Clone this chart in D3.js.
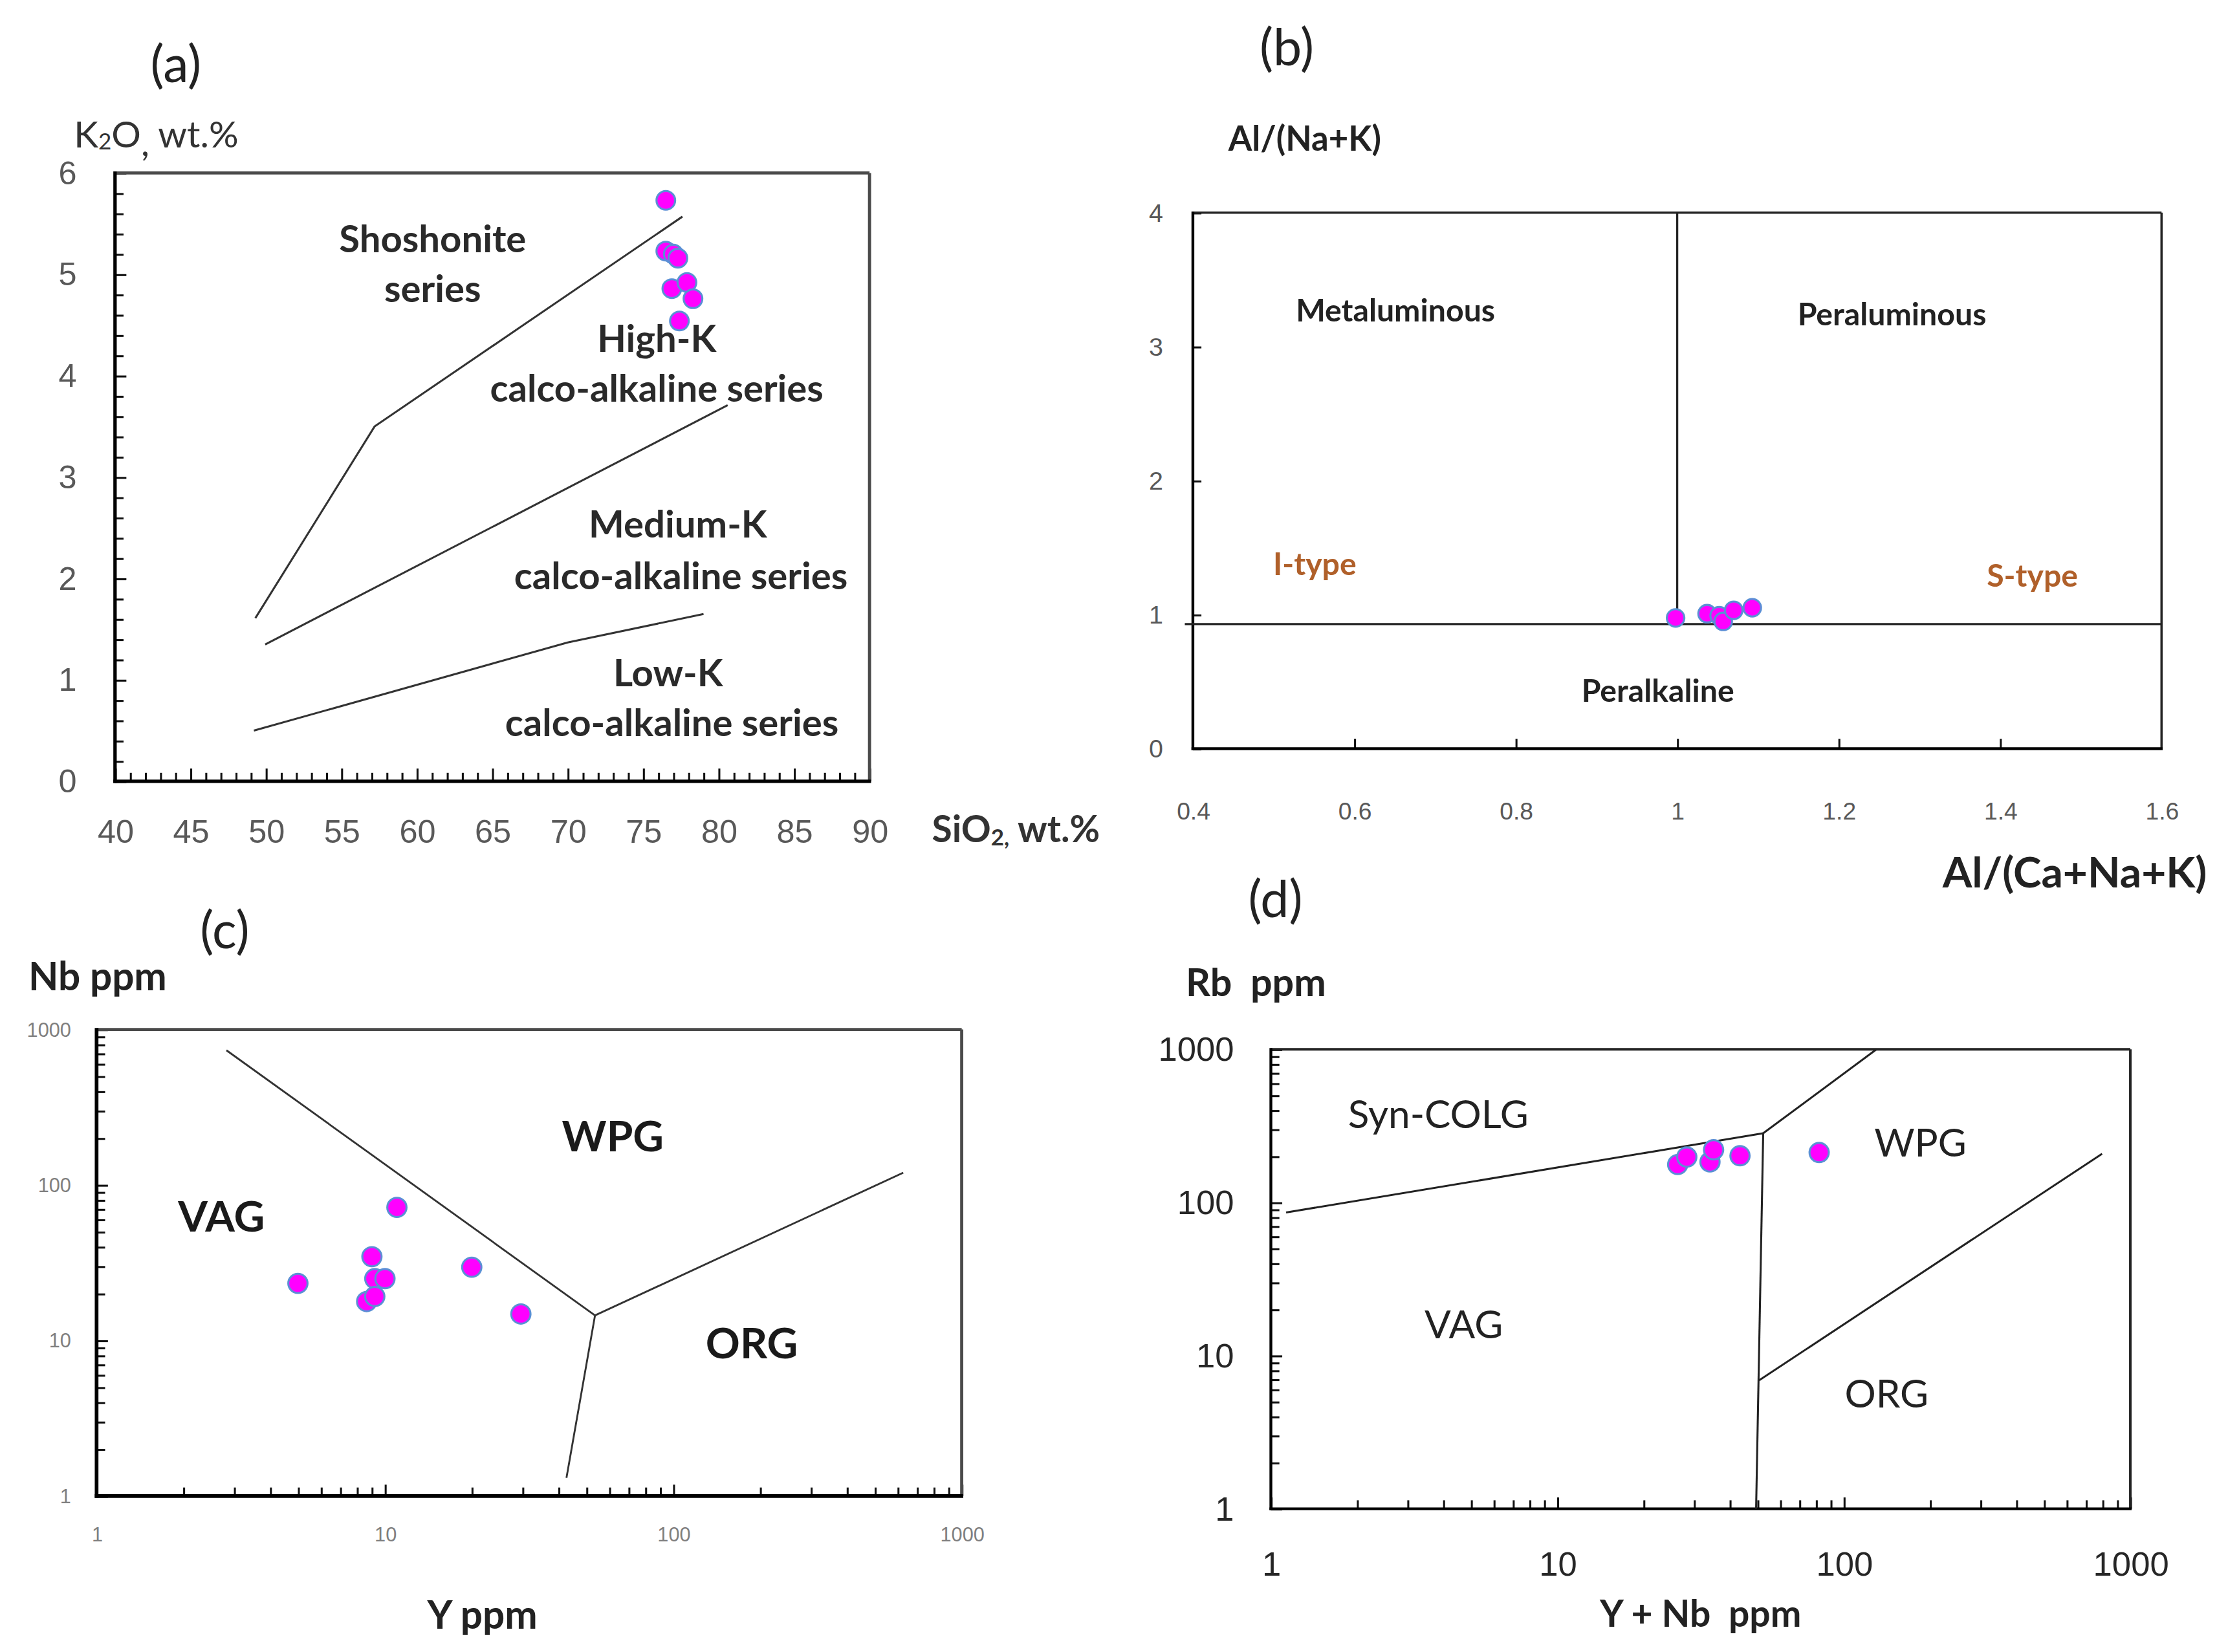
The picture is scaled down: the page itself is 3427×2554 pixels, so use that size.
<!DOCTYPE html>
<html>
<head>
<meta charset="utf-8">
<script src="https://cdn.jsdelivr.net/npm/d3@7"></script>
<style>
  html, body { margin: 0; padding: 0; background: #fff; }
  svg { display: block; font-family: Lato, "Open Sans", "DejaVu Sans", sans-serif; }
  text { white-space: pre; }
</style>
</head>
<body>
<svg id="chart"></svg>
<script>
// ---------------- DATA ----------------
// (a) SiO2 vs K2O
const aSiO2 = [76.5, 76.5, 77.0, 77.3, 76.9, 77.9, 78.3, 77.4];
const aK2O  = [5.73, 5.23, 5.20, 5.16, 4.86, 4.92, 4.76, 4.54];
const aLineShoshonite = [[49.3, 1.61], [57.2, 3.50], [77.6, 5.57]];
const aLineHighK      = [[49.95, 1.35], [80.6, 3.71]];
const aLineLowK       = [[49.2, 0.50], [70.0, 1.37], [79.0, 1.65]];
const aXTicks = d3.range(40, 91, 1);
const aXLabels = [40, 45, 50, 55, 60, 65, 70, 75, 80, 85, 90];
const aYTicks = d3.range(0, 6.01, 0.2).map(v => +v.toFixed(1));
const aYLabels = [0, 1, 2, 3, 4, 5, 6];
const aRegions = [
  ["Shoshonite", 61.05, 5.36], ["series", 61.05, 4.87],
  ["High-K", 75.9, 4.38], ["calco-alkaline series", 75.9, 3.89],
  ["Medium-K", 77.3, 2.55], ["calco-alkaline series", 77.5, 2.04],
  ["Low-K", 76.65, 1.08], ["calco-alkaline series", 76.9, 0.59]
];

// (b) A/CNK vs A/NK
const bACNK = [0.998, 1.037, 1.052, 1.057, 1.070, 1.093];
const bANK  = [0.976, 1.008, 0.993, 0.950, 1.033, 1.052];
const bVLine = [[1.0, 0.93], [1.0, 4.0]];
const bHLine = [[0.39, 0.93], [1.6, 0.93]];
const bXLabels = [0.4, 0.6, 0.8, 1.0, 1.2, 1.4, 1.6];
const bYLabels = [0, 1, 2, 3, 4];
const bRegions = [
  ["Metaluminous", 0.651, 3.28, "#222"], ["Peraluminous", 1.266, 3.25, "#222"],
  ["I-type", 0.551, 1.386, "#B0602A"], ["S-type", 1.44, 1.30, "#B0602A"],
  ["Peralkaline", 0.976, 0.444, "#222"]
];

// (c) Y vs Nb
const cY  = [4.99, 11.0, 9.01, 9.22, 10.0, 8.64, 9.22, 20.0, 29.6];
const cNb = [23.3, 71.8, 34.6, 25.0, 25.0, 17.8, 19.2, 29.6, 14.8];
const cLineVAG = [[2.82, 735], [53.5, 14.5]];
const cLineORG = [[53.5, 14.5], [627, 120]];
const cLineBottom = [[53.5, 14.5], [42.6, 1.31]];
const cRegions = [["VAG", 2.71, 63.8], ["WPG", 61.7, 211], ["ORG", 187, 9.85]];

// (d) Y+Nb vs Rb
const dYNb = [26.3, 28.3, 34.1, 35.1, 43.4, 82.0];
const dRb  = [177, 198, 184, 221, 202, 212];
const dLineSyn   = [[1.13, 86], [52.3, 283]];
const dLineUpper = [[52.3, 283], [130, 1000]];
const dLineVert  = [[52.3, 283], [49.4, 1]];
const dLineORG   = [[50.6, 6.9], [797, 208]];
const dRegions = [["Syn-COLG", 3.84, 383], ["WPG", 185, 250], ["VAG", 4.71, 16.3], ["ORG", 141, 5.75]];

const logTicks = [];
[1, 10, 100].forEach(d => { for (let i = 1; i < 10; i++) logTicks.push(d * i); });
logTicks.push(1000);
const logLabels = [1, 10, 100, 1000];

// ---------------- DRAW ----------------
const W = 1563, H = 1165;
const svg = d3.select("#chart")
  .attr("width", 3427).attr("height", 2554)
  .attr("viewBox", `0 0 ${W} ${H}`);
svg.append("rect").attr("width", W).attr("height", H).attr("fill", "#fff");

const MAG = "#FF00FF", MAGSTROKE = "#5B8FD5";
const line = (xs, ys) => d3.line().x(d => xs(d[0])).y(d => ys(d[1]));

function styleAxis(g, labelSize, labelColor) {
  g.select(".domain").remove();
  g.selectAll(".tick line").attr("stroke", "#111").attr("stroke-width", 1.4);
  g.selectAll(".tick text").attr("font-size", labelSize).attr("fill", labelColor);
  return g;
}

function frame(g, x0, x1, y0, y1, axisW, frameW, frameColor) {
  g.append("line").attr("x1", x0).attr("x2", x1).attr("y1", y0).attr("y2", y0)
    .attr("stroke", frameColor).attr("stroke-width", frameW);
  g.append("line").attr("x1", x1).attr("x2", x1).attr("y1", y0).attr("y2", y1)
    .attr("stroke", frameColor).attr("stroke-width", frameW);
  g.append("line").attr("x1", x0).attr("x2", x0).attr("y1", y0 - frameW / 2).attr("y2", y1 + axisW / 2)
    .attr("stroke", "#000").attr("stroke-width", axisW);
  g.append("line").attr("x1", x0 - axisW / 2).attr("x2", x1 + frameW / 2).attr("y1", y1).attr("y2", y1)
    .attr("stroke", "#000").attr("stroke-width", axisW);
}

function points(g, xs, ys, xv, yv, r) {
  g.selectAll(null).data(xv.map((v, i) => [v, yv[i]])).enter().append("circle")
    .attr("cx", d => xs(d[0])).attr("cy", d => ys(d[1])).attr("r", r)
    .attr("fill", MAG).attr("stroke", MAGSTROKE).attr("stroke-width", 1.4);
}

function txt(x, y, s, size, opts = {}) {
  return svg.append("text").attr("x", x).attr("y", y).text(s)
    .attr("font-size", size).attr("fill", opts.fill || "#222")
    .attr("font-weight", opts.weight || "normal")
    .attr("text-anchor", opts.anchor || "start")
    .attr("dominant-baseline", "central");
}

// ===== Panel (a) =====
{
  const x = d3.scaleLinear().domain([40, 90]).range([81, 613]);
  const y = d3.scaleLinear().domain([0, 6]).range([551, 122]);
  const g = svg.append("g");
  const xa = g.append("g").attr("transform", "translate(0,551)")
    .call(d3.axisBottom(x).tickValues(aXTicks).tickSize(-6).tickPadding(27)
      .tickFormat(d => aXLabels.includes(d) ? d : ""));
  styleAxis(xa, 23, "#595959");
  xa.selectAll(".tick line").attr("y2", d => d % 5 === 0 ? -9 : -6);
  const ya = g.append("g").attr("transform", "translate(81,0)")
    .call(d3.axisLeft(y).tickValues(aYTicks).tickSize(-6).tickPadding(27)
      .tickFormat(d => aYLabels.includes(d) ? d : ""));
  styleAxis(ya, 23, "#595959");
  ya.selectAll(".tick line").attr("x2", d => Number.isInteger(d) ? 8 : 6);
  frame(g, 81, 613, 122, 551, 2.4, 2.2, "#4a4a4a");
  [aLineShoshonite, aLineHighK, aLineLowK].forEach(l =>
    g.append("path").attr("d", line(x, y)(l)).attr("fill", "none")
      .attr("stroke", "#333").attr("stroke-width", 1.4));
  aRegions.forEach(r => g.append("text").attr("x", x(r[1])).attr("y", y(r[2]))
    .attr("text-anchor", "middle").attr("dominant-baseline", "central")
    .attr("font-size", 26.5).attr("font-weight", "bold").attr("fill", "#2a2a2a").text(r[0]));
  points(g, x, y, aSiO2, aK2O, 6.6);
  txt(106, 44, "(a)", 36);
  const t = txt(52, 94, "", 26, { fill: "#333" });
  t.append("tspan").text("K");
  t.append("tspan").attr("font-size", 16).attr("dy", 5).text("2");
  t.append("tspan").attr("dy", -5).text("O");
  t.append("tspan").attr("dy", 6).text(",");
  t.append("tspan").attr("dy", -6).text(" wt.%");
  const s = txt(657, 584, "", 26, { weight: "bold", fill: "#333" });
  s.append("tspan").text("SiO");
  s.append("tspan").attr("font-size", 16).attr("dy", 6).text("2,");
  s.append("tspan").attr("dy", -6).text(" wt.%");
}

// ===== Panel (b) =====
{
  const x = d3.scaleLinear().domain([0.4, 1.6]).range([841, 1524]);
  const y = d3.scaleLinear().domain([0, 4]).range([528, 150]);
  const g = svg.append("g");
  const xa = g.append("g").attr("transform", "translate(0,528)")
    .call(d3.axisBottom(x).tickValues(bXLabels).tickSize(-7).tickPadding(38)
      .tickFormat(d => d3.format("~g")(d)));
  styleAxis(xa, 17, "#595959");
  xa.selectAll(".tick line").attr("opacity", d => (d === 0.4 || d === 1.6) ? 0 : 1);
  const ya = g.append("g").attr("transform", "translate(841,0)")
    .call(d3.axisLeft(y).tickValues(bYLabels).tickSize(-6).tickPadding(21)
      .tickFormat(d => d3.format("~g")(d)));
  styleAxis(ya, 18, "#595959");
  frame(g, 841, 1524, 150, 528, 2, 1.6, "#222");
  [bVLine, bHLine].forEach(l =>
    g.append("path").attr("d", line(x, y)(l)).attr("fill", "none")
      .attr("stroke", "#222").attr("stroke-width", 1.5));
  bRegions.forEach(r => g.append("text").attr("x", x(r[1])).attr("y", y(r[2]))
    .attr("text-anchor", "middle").attr("dominant-baseline", "central")
    .attr("font-size", 22).attr("font-weight", "bold").attr("fill", r[3]).text(r[0]));
  points(g, x, y, bACNK, bANK, 6.2);
  txt(888, 32, "(b)", 36);
  txt(866, 97, "Al/(Na+K)", 24, { weight: "bold" });
  txt(1556, 614, "Al/(Ca+Na+K)", 30, { weight: "bold", anchor: "end" });
}

// ===== Panel (c) =====
{
  const x = d3.scaleLog().domain([1, 1000]).range([68, 678]);
  const y = d3.scaleLog().domain([1, 1000]).range([1055, 726]);
  const g = svg.append("g");
  const xa = g.append("g").attr("transform", "translate(0,1055)")
    .call(d3.axisBottom(x).tickValues(logTicks).tickSize(-6).tickPadding(22)
      .tickFormat(d => logLabels.includes(d) ? d : ""));
  styleAxis(xa, 14, "#7f7f7f");
  xa.selectAll(".tick line").attr("y2", d => logLabels.includes(d) ? -8 : -6);
  const ya = g.append("g").attr("transform", "translate(68,0)")
    .call(d3.axisLeft(y).tickValues(logTicks).tickSize(-6).tickPadding(18)
      .tickFormat(d => logLabels.includes(d) ? d : ""));
  styleAxis(ya, 14, "#7f7f7f");
  ya.selectAll(".tick line").attr("x2", d => logLabels.includes(d) ? 8 : 6);
  frame(g, 68, 678, 726, 1055, 2.6, 2.2, "#4a4a4a");
  [cLineVAG, cLineORG, cLineBottom].forEach(l =>
    g.append("path").attr("d", line(x, y)(l)).attr("fill", "none")
      .attr("stroke", "#333").attr("stroke-width", 1.3));
  cRegions.forEach(r => g.append("text").attr("x", x(r[1])).attr("y", y(r[2]))
    .attr("text-anchor", "middle").attr("dominant-baseline", "central")
    .attr("font-size", 30).attr("font-weight", "bold").attr("fill", "#1a1a1a").text(r[0]));
  points(g, x, y, cY, cNb, 6.8);
  txt(141, 655, "(c)", 36);
  txt(20, 688, "Nb ppm", 27.5, { weight: "bold" });
  txt(340, 1138, "Y ppm", 27.5, { weight: "bold", anchor: "middle" });
}

// ===== Panel (d) =====
{
  const x = d3.scaleLog().domain([1, 1000]).range([896, 1502]);
  const y = d3.scaleLog().domain([1, 1000]).range([1064, 740]);
  const g = svg.append("g");
  const xa = g.append("g").attr("transform", "translate(0,1064)")
    .call(d3.axisBottom(x).tickValues(logTicks).tickSize(-6).tickPadding(30)
      .tickFormat(d => logLabels.includes(d) ? d : ""));
  styleAxis(xa, 24, "#262626");
  xa.selectAll(".tick line").attr("y2", d => logLabels.includes(d) ? -8 : -6);
  const ya = g.append("g").attr("transform", "translate(896,0)")
    .call(d3.axisLeft(y).tickValues(logTicks).tickSize(-6).tickPadding(26)
      .tickFormat(d => logLabels.includes(d) ? d : ""));
  styleAxis(ya, 24, "#262626");
  ya.selectAll(".tick line").attr("x2", d => logLabels.includes(d) ? 8 : 6);
  frame(g, 896, 1502, 740, 1064, 2, 1.8, "#222");
  [dLineSyn, dLineUpper, dLineVert, dLineORG].forEach(l =>
    g.append("path").attr("d", line(x, y)(l)).attr("fill", "none")
      .attr("stroke", "#222").attr("stroke-width", 1.4));
  dRegions.forEach(r => g.append("text").attr("x", x(r[1])).attr("y", y(r[2]))
    .attr("text-anchor", "middle").attr("dominant-baseline", "central")
    .attr("font-size", 27.5).attr("fill", "#222").text(r[0]));
  points(g, x, y, dYNb, dRb, 6.8);
  txt(880, 633, "(d)", 36);
  txt(836, 692, "Rb  ppm", 27, { weight: "bold" });
  txt(1199, 1137, "Y + Nb  ppm", 26, { weight: "bold", anchor: "middle" });
}
</script>
</body>
</html>
